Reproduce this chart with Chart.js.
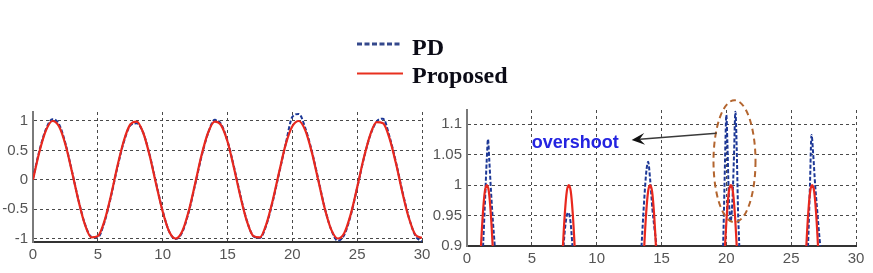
<!DOCTYPE html>
<html>
<head>
<meta charset="utf-8">
<script src="https://cdn.jsdelivr.net/npm/chart.js@4/dist/chart.umd.min.js"></script>
<style>
  body { margin: 0; background: #fff; }
  #wrap { position: relative; width: 873px; height: 273px; overflow: hidden; }
  canvas { position: absolute; top: 0; }
  .lg { position: absolute; left: 412px; font: bold 24px "Liberation Serif", "Times New Roman", serif; color: #0b0b16; line-height: 24px; }
  svg { position: absolute; left: 0; top: 0; }
</style>
</head>
<body>
<div id="wrap">
  <canvas id="left" width="430" height="273" style="left:0"></canvas>
  <canvas id="right" width="443" height="273" style="left:430px"></canvas>
  <svg width="873" height="100">
    <line x1="357" y1="44" x2="401" y2="44" stroke="#34488c" stroke-width="3" stroke-dasharray="5 2.5"/>
    <line x1="357" y1="73.5" x2="403" y2="73.5" stroke="#e8301f" stroke-width="2"/>
  </svg>
  <div class="lg" style="top:35px">PD</div>
  <div class="lg" style="top:63px">Proposed</div>
</div>
<script>
// time axis shared by both traces in the left panel
const leftT = [0, 0.5, 1, 1.5, 2, 2.5, 3, 3.5, 4, 4.5, 5, 5.5, 6, 6.5, 7, 7.5, 8, 8.5, 9, 9.5,
  10, 10.5, 11, 11.5, 12, 12.5, 13, 13.5, 14, 14.5, 15, 15.5, 16, 16.5, 17, 17.5, 18, 18.5, 19, 19.5,
  20, 20.5, 21, 21.5, 22, 22.5, 23, 23.5, 24, 24.5, 25, 25.5, 26, 26.5, 27, 27.5, 28, 28.5, 29, 29.5, 30];

const leftProposed = [0, 0.48, 0.84, 1.0, 0.91, 0.6, 0.14, -0.35, -0.76, -0.98, -0.96, -0.71, -0.28, 0.22, 0.66, 0.94, 0.99, 0.8, 0.41, -0.08,
  -0.54, -0.88, -1.0, -0.88, -0.54, -0.07, 0.42, 0.8, 0.99, 0.93, 0.65, 0.2, -0.29, -0.71, -0.96, -0.98, -0.75, -0.34, 0.15, 0.61,
  0.91, 1.0, 0.84, 0.47, -0.01, -0.49, -0.85, -1.0, -0.91, -0.59, -0.13, 0.36, 0.76, 0.98, 0.96, 0.7, 0.27, -0.23, -0.66, -0.94, -0.99];

const leftPD = [0.02, 0.5, 0.86, 1.03, 0.95, 0.62, 0.15, -0.34, -0.75, -0.97, -0.98, -0.73, -0.3, 0.2, 0.64, 0.92, 0.96, 0.8, 0.42, -0.06,
  -0.53, -0.88, -1.01, -0.9, -0.56, -0.09, 0.4, 0.79, 1.02, 0.95, 0.66, 0.22, -0.27, -0.7, -0.96, -0.99, -0.77, -0.36, 0.13, 0.62,
  1.07, 1.12, 0.88, 0.49, 0.01, -0.48, -0.85, -1.04, -0.94, -0.61, -0.14, 0.35, 0.75, 0.99, 1.04, 0.73, 0.29, -0.21, -0.65, -0.96, -1.05];

// right panel: close-up of the peaks (null = break between peaks)
const rightPropX = [0.93, 1.08, 1.23, 1.38, 1.53, 1.68, 1.83, 1.98, 2.13, 4.5,
  7.25, 7.4, 7.55, 7.7, 7.85, 8.0, 8.15, 8.3, 8.45, 11,
  13.52, 13.67, 13.82, 13.97, 14.12, 14.27, 14.42, 14.57, 14.72, 17,
  19.75, 19.9, 20.05, 20.2, 20.35, 20.5, 20.65, 20.8, 20.95, 23.5,
  26.02, 26.17, 26.32, 26.47, 26.62, 26.77, 26.92, 27.07, 27.22];
const rightPropY = [0.83, 0.9, 0.955, 0.99, 1.0, 0.99, 0.955, 0.9, 0.83, null,
  0.83, 0.9, 0.955, 0.99, 1.0, 0.99, 0.955, 0.9, 0.83, null,
  0.83, 0.9, 0.955, 0.99, 1.0, 0.99, 0.955, 0.9, 0.83, null,
  0.83, 0.9, 0.955, 0.99, 1.0, 0.99, 0.955, 0.9, 0.83, null,
  0.83, 0.9, 0.955, 0.99, 1.0, 0.99, 0.955, 0.9, 0.83];

const rightPDX = [1.1, 1.24, 1.4, 1.52, 1.62, 1.72, 1.85, 2.0, 2.14, 2.3, 4.5,
  7.3, 7.45, 7.62, 7.8, 7.98, 8.13, 8.3, 11,
  13.3, 13.46, 13.65, 13.82, 13.97, 14.12, 14.3, 14.45, 14.6, 14.75, 17,
  19.65, 19.75, 19.85, 19.93, 20.0, 20.08, 20.18, 20.32, 20.46, 20.58, 20.7, 20.8, 20.9, 21.0, 21.1, 23.5,
  26.15, 26.3, 26.45, 26.57, 26.7, 26.85, 27.0, 27.2, 27.35, 27.5];
const rightPDY = [0.84, 0.9, 0.98, 1.04, 1.075, 1.04, 0.99, 0.94, 0.9, 0.84, null,
  0.84, 0.9, 0.94, 0.955, 0.94, 0.9, 0.84, null,
  0.84, 0.9, 0.97, 1.02, 1.038, 1.01, 0.96, 0.93, 0.9, 0.84, null,
  0.84, 0.9, 0.99, 1.07, 1.115, 1.07, 0.99, 0.94, 0.97, 1.04, 1.12, 1.06, 0.96, 0.9, 0.84, null,
  0.84, 0.9, 1.0, 1.082, 1.05, 1.0, 0.96, 0.91, 0.88, 0.84];

const xTicks = [0, 5, 10, 15, 20, 25, 30];
const leftYTicks = [-1, -0.5, 0, 0.5, 1];
const rightYTicks = [0.9, 0.95, 1, 1.05, 1.1];

// annotation on the right panel (data units)
const noteText = "overshoot";
const notePos = [5.0, 1.069];
const arrowFrom = [19.25, 1.085];
const arrowTo = [12.7, 1.074];
const ellipseCenter = [20.63, 1.039];
const ellipseRadius = [1.62, 0.1];

const pdColor = "#1c3796";
const propColor = "#e8281e";
const gridColor = "#4a4a4a";
const tickFont = { family: "Liberation Sans, Arial, sans-serif", size: 15 };

const pts = (xs, ys) => xs.map((x, i) => ({ x: x, y: ys[i] }));

function datasets(pdData, propData) {
  return [
    { label: "PD", data: pdData, borderColor: pdColor, borderWidth: 2, borderDash: [4, 2],
      pointRadius: 0, cubicInterpolationMode: "monotone", order: 2 },
    { label: "Proposed", data: propData, borderColor: propColor, borderWidth: 2.2,
      pointRadius: 0, cubicInterpolationMode: "monotone", order: 1 },
  ];
}

function axes(yMin, yMax, yTicks, yWidth, xHeight) {
  return {
    x: {
      type: "linear", min: 0, max: 30,
      afterBuildTicks: (s) => { s.ticks = xTicks.map((v) => ({ value: v })); },
      afterFit: (s) => { s.height = xHeight; s.paddingLeft = 0; s.paddingRight = 0; },
      grid: { color: gridColor, drawTicks: false },
      border: { color: "#333", width: 2, dash: [3, 3] },
      ticks: { color: "#555", font: tickFont, padding: 4, maxRotation: 0, callback: (v) => String(v) },
    },
    y: {
      type: "linear", min: yMin, max: yMax,
      afterBuildTicks: (s) => { s.ticks = yTicks.map((v) => ({ value: v })); },
      afterFit: (s) => { s.width = yWidth; s.paddingTop = 0; s.paddingBottom = 0; },
      grid: { color: gridColor, drawTicks: false },
      border: { color: "#7a7a7a", width: 2, dash: [3, 3] },
      ticks: { color: "#555", font: tickFont, padding: 5, callback: (v) => String(v) },
    },
  };
}

const overshootPlugin = {
  id: "overshoot",
  afterDraw(chart) {
    const { ctx } = chart;
    const x = chart.scales.x, y = chart.scales.y;
    const px = (v) => x.getPixelForValue(v);
    const py = (v) => y.getPixelForValue(v);
    ctx.save();
    // dashed ellipse around the largest overshoot
    ctx.setLineDash([6, 4]);
    ctx.strokeStyle = "#b3652f";
    ctx.lineWidth = 2;
    ctx.beginPath();
    ctx.ellipse(px(ellipseCenter[0]), py(ellipseCenter[1]),
      px(ellipseCenter[0] + ellipseRadius[0]) - px(ellipseCenter[0]),
      py(ellipseCenter[1] - ellipseRadius[1]) - py(ellipseCenter[1]), 0, 0, Math.PI * 2);
    ctx.stroke();
    // arrow
    ctx.setLineDash([]);
    const x1 = px(arrowFrom[0]), y1 = py(arrowFrom[1]);
    const x2 = px(arrowTo[0]), y2 = py(arrowTo[1]);
    const a = Math.atan2(y2 - y1, x2 - x1);
    ctx.strokeStyle = "#3a3a3a";
    ctx.lineWidth = 1.6;
    ctx.beginPath();
    ctx.moveTo(x1, y1);
    ctx.lineTo(x2 - 8 * Math.cos(a), y2 - 8 * Math.sin(a));
    ctx.stroke();
    ctx.fillStyle = "#111";
    ctx.beginPath();
    ctx.moveTo(x2, y2);
    ctx.lineTo(x2 - 13 * Math.cos(a) + 6 * Math.sin(a), y2 - 13 * Math.sin(a) - 6 * Math.cos(a));
    ctx.lineTo(x2 - 8 * Math.cos(a), y2 - 8 * Math.sin(a));
    ctx.lineTo(x2 - 13 * Math.cos(a) - 6 * Math.sin(a), y2 - 13 * Math.sin(a) + 6 * Math.cos(a));
    ctx.closePath();
    ctx.fill();
    // label
    ctx.font = "bold 18px 'Liberation Sans', Arial, sans-serif";
    ctx.fillStyle = "#2424e0";
    ctx.textBaseline = "middle";
    ctx.fillText(noteText, px(notePos[0]), py(notePos[1]));
    ctx.restore();
  },
};

new Chart(document.getElementById("left"), {
  type: "line",
  data: { datasets: datasets(pts(leftT, leftPD), pts(leftT, leftProposed)) },
  options: {
    responsive: false,
    animation: false,
    layout: { padding: { top: 112, right: 8, left: 0, bottom: 0 } },
    plugins: { legend: { display: false }, tooltip: { enabled: false } },
    scales: axes(-1.06, 1.153, leftYTicks, 33, 31),
  },
});

new Chart(document.getElementById("right"), {
  type: "line",
  data: { datasets: datasets(pts(rightPDX, rightPDY), pts(rightPropX, rightPropY)) },
  options: {
    responsive: false,
    animation: false,
    layout: { padding: { top: 110, right: 17, left: 0, bottom: 0 } },
    plugins: { legend: { display: false }, tooltip: { enabled: false } },
    scales: axes(0.9, 1.123, rightYTicks, 37, 27),
  },
  plugins: [overshootPlugin],
});
</script>
</body>
</html>
